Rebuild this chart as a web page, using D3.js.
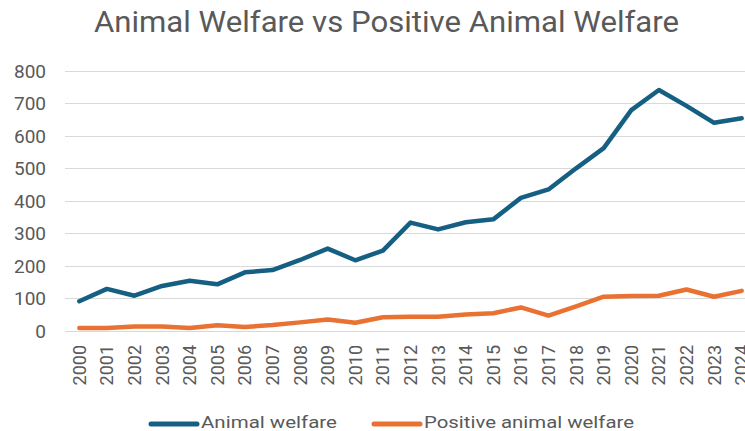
<!DOCTYPE html>
<html>
<head>
<meta charset="utf-8">
<script src="https://cdn.jsdelivr.net/npm/d3@7"></script>
<style>
  html, body { margin: 0; padding: 0; background: #ffffff; }
  svg { display: block; }
  text { font-family: Roboto, "Noto Sans", sans-serif; fill: #595959; }
</style>
</head>
<body>
<svg id="chart" width="745" height="431"></svg>
<script>
// Publication counts per year
const years = ["2000","2001","2002","2003","2004","2005","2006","2007","2008","2009","2010","2011","2012","2013","2014","2015","2016","2017","2018","2019","2020","2021","2022","2023","2024"];
const animalWelfare = [90, 128, 107, 137, 153, 142, 179, 186, 217, 252, 216, 246, 332, 311, 333, 342, 408, 434, 499, 561, 678, 740, 691, 639, 653];
const positiveAnimalWelfare = [8, 8, 12, 12, 8, 16, 11, 17, 25, 34, 24, 41, 42, 42, 49, 53, 71, 46, 74, 104, 106, 107, 126, 104, 122];
const yTicks = [0, 100, 200, 300, 400, 500, 600, 700, 800];
const seriesNames = ["Animal welfare", "Positive animal welfare"];
const seriesColors = ["#156082", "#E97132"];
const titleText = "Animal Welfare vs Positive Animal Welfare";

const svg = d3.select("#chart");

const x = d3.scaleBand().domain(years).range([65.5, 755.5]).padding(0);
const y = d3.scaleLinear().domain([0, 800]).range([330.5, 70.5]);

// Title
svg.append("text")
  .attr("x", 94).attr("y", 31.5)
  .attr("font-size", 30)
  .attr("textLength", 585)
  .attr("lengthAdjust", "spacingAndGlyphs")
  .text(titleText);

// Horizontal gridlines
svg.append("g")
  .selectAll("line")
  .data(yTicks)
  .join("line")
  .attr("x1", 65).attr("x2", 745)
  .attr("y1", d => Math.round(y(d)) + 0.5)
  .attr("y2", d => Math.round(y(d)) + 0.5)
  .attr("stroke", "#d9d9d9")
  .attr("stroke-width", 1);

// Y axis labels
const yAxis = d3.axisLeft(y).tickValues(yTicks).tickSize(0).tickPadding(0);
const gy = svg.append("g").attr("transform", "translate(46,0)").call(yAxis);
gy.select(".domain").remove();
gy.selectAll("text")
  .attr("font-size", 19)
  .attr("font-family", "Roboto, 'Noto Sans', sans-serif")
  .attr("fill", "#595959")
  .attr("dy", "0.36em");

// X axis labels, rotated
const xAxis = d3.axisBottom(x).tickSize(0).tickPadding(0);
const gx = svg.append("g").attr("transform", "translate(0,345)").call(xAxis);
gx.select(".domain").remove();
gx.selectAll("text")
  .attr("font-size", 18)
  .attr("font-family", "Roboto, 'Noto Sans', sans-serif")
  .attr("fill", "#595959")
  .attr("text-anchor", "end")
  .attr("transform", "rotate(-90)")
  .attr("x", 0)
  .attr("y", 0)
  .attr("dy", "0.36em");

// Lines
const line = d3.line()
  .x((d, i) => x(years[i]) + x.bandwidth() / 2)
  .y(d => y(d));

[animalWelfare, positiveAnimalWelfare].forEach((vals, k) => {
  svg.append("path")
    .datum(vals)
    .attr("d", line)
    .attr("fill", "none")
    .attr("stroke", seriesColors[k])
    .attr("stroke-width", 4.5)
    .attr("stroke-linejoin", "round")
    .attr("stroke-linecap", "round");
});

// Legend
const legendItems = [
  { x1: 151, x2: 197, tx: 201, tw: 136 },
  { x1: 374, x2: 420, tx: 424, tw: 210 }
];
legendItems.forEach((it, k) => {
  svg.append("line")
    .attr("x1", it.x1).attr("x2", it.x2)
    .attr("y1", 424).attr("y2", 424)
    .attr("stroke", seriesColors[k])
    .attr("stroke-width", 5)
    .attr("stroke-linecap", "round");
  svg.append("text")
    .attr("x", it.tx).attr("y", 428)
    .attr("font-size", 17)
    .attr("textLength", it.tw)
    .attr("lengthAdjust", "spacingAndGlyphs")
    .text(seriesNames[k]);
});
</script>
</body>
</html>
